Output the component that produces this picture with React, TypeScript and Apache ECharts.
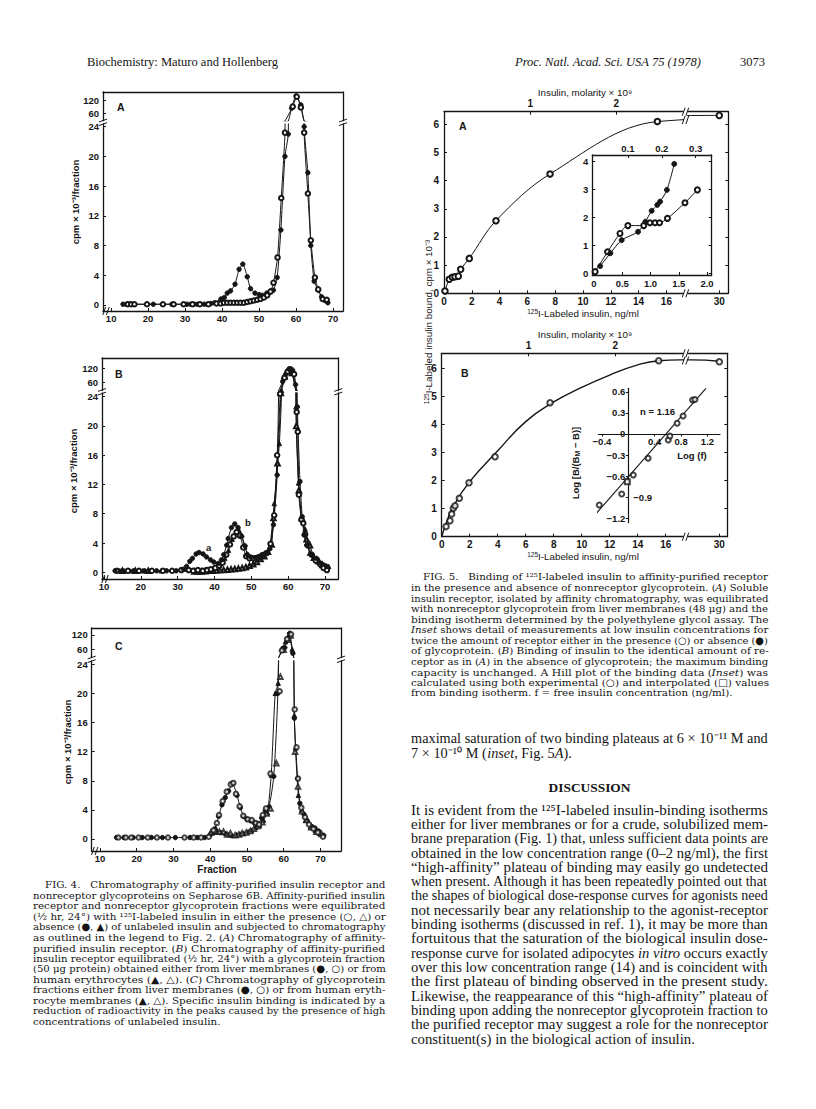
import React, { useEffect, useRef } from "react";
import * as echarts from "echarts";

const INK = "#151515";
const SANS = "'Liberation Sans', Arial, Helvetica, sans-serif";
const CAP_SERIF = "'DejaVu Serif', serif";
const BODY_SERIF = "'Liberation Serif', 'Times New Roman', serif";

// ---------------- Fig. 4 data: [fraction, cpm x 10^-3] ----------------
const fractionTicks = [10, 20, 30, 40, 50, 60, 70];
const lowerTicks = [0, 4, 8, 12, 16, 20, 24];
const upperTicks = [60, 120];

const fig4A_absence = [
  [13.2, 0.1], [14.1, 0.1], [15.0, 0.1], [21.4, 0.1], [26.4, 0.1], [30.5, 0.1], [31.5, 0.1], [32.4, 0.1], [33.3, 0.1],
  [34.2, 0.1], [35.2, 0.1], [36.1, 0.1], [37.0, 0.2], [38.0, 0.3], [39.7, 0.8], [40.6, 1.0], [41.4, 1.6], [42.3, 1.9],
  [43.5, 2.8], [44.6, 4.8], [45.6, 5.5], [46.8, 3.8], [47.7, 2.2], [48.9, 1.6], [50.0, 1.4], [50.9, 1.3], [52.1, 1.6],
  [53.2, 1.9], [53.9, 2.0], [54.9, 3.7], [55.9, 10.1], [57.0, 20.0], [57.9, 23.0], [58.8, 84], [60.0, 143], [61.3, 100],
  [62.2, 24.0], [63.2, 17.8], [64.0, 8.0], [64.9, 3.2], [66.0, 2.0], [66.9, 1.1], [67.8, 0.6], [68.6, 0.3],
];
const fig4A_presence = [
  [14.5, 0.1], [15.4, 0.1], [16.3, 0.1], [19.7, 0.1], [24.0, 0.1], [26.9, 0.1], [29.6, 0.1], [32.0, 0.1], [34.0, 0.1],
  [36.3, 0.1], [38.5, 0.2], [39.6, 0.2], [40.5, 0.3], [41.4, 0.3], [42.3, 0.3], [43.2, 0.3], [44.1, 0.3], [45.0, 0.3],
  [45.9, 0.3], [46.8, 0.4], [47.7, 0.5], [48.6, 0.6], [49.5, 0.7], [50.4, 0.8], [51.3, 1.0], [52.2, 1.3], [53.1, 1.8],
  [53.9, 3.0], [55.0, 6.4], [56.0, 14.4], [57.0, 23.2], [59.1, 92], [60.2, 139], [61.3, 88], [62.2, 23.2], [63.2, 15.0],
  [64.0, 8.7], [65.1, 3.7], [66.0, 2.1], [67.2, 0.8], [68.3, 0.7],
];

const fig4B_liverAbsence = [
  [13.0, 0.2], [14.9, 0.2], [18.0, 0.2], [21.0, 0.2], [24.3, 0.2], [27.0, 0.2], [29.6, 0.2], [31.6, 0.4], [32.4, 0.8],
  [33.3, 1.5], [34.0, 1.9], [35.0, 2.5], [35.8, 2.7], [36.9, 2.5], [37.8, 2.1], [38.9, 1.7], [39.8, 1.4], [41.0, 1.2],
  [41.9, 1.7], [42.5, 2.4], [43.3, 3.7], [43.7, 4.6], [44.6, 6.1], [45.5, 6.6], [46.4, 6.1], [47.4, 4.9], [48.3, 3.6],
  [48.9, 2.4], [49.8, 2.1], [51.0, 2.0], [51.9, 2.1], [53.0, 2.4], [54.2, 2.6], [55.0, 3.2], [56.0, 6.5], [57.0, 13.3],
  [58.5, 63], [59.3, 94], [60.2, 117], [61.2, 112], [62.0, 50], [62.5, 22.6], [63.2, 12.4], [63.8, 7.6], [64.3, 5.1],
  [65.0, 3.7], [66.4, 2.4], [67.7, 1.9], [69.0, 1.2], [70.4, 0.8],
];
const fig4B_liverPresence = [
  [13.5, 0.2], [16.5, 0.2], [19.5, 0.2], [23.0, 0.2], [26.0, 0.2], [28.5, 0.2], [31.0, 0.3], [33.0, 0.3], [34.2, 0.2],
  [35.5, 0.3], [36.8, 0.2], [38.0, 0.3], [39.0, 0.4], [40.2, 0.6], [41.2, 0.9], [42.2, 1.3], [43.2, 2.4], [44.2, 3.8],
  [45.2, 4.9], [46.0, 5.5], [46.9, 5.0], [47.8, 3.4], [48.6, 2.2], [49.5, 1.9], [50.6, 1.9], [51.8, 2.0], [52.9, 2.3],
  [54.0, 2.6], [55.2, 3.9], [56.2, 7.8], [57.0, 16.0], [57.8, 24.4], [59.0, 80], [59.8, 105], [60.6, 116], [61.6, 95],
  [62.3, 21.9], [62.6, 19.2], [62.9, 10.6], [63.6, 7.2], [64.1, 6.7], [64.6, 5.2], [66.4, 2.4], [67.5, 1.6], [68.7, 1.1],
  [69.6, 0.6], [70.5, 0.3],
];
const fig4B_eryAbsence = [
  [14.2, 0.2], [15.5, 0.2], [17.0, 0.2], [20.5, 0.2], [22.5, 0.2], [25.5, 0.2], [35.0, 0.3], [37.5, 0.4], [40.0, 0.6],
  [41.5, 1.0], [42.8, 1.9], [43.8, 3.0], [44.8, 4.5], [45.8, 5.5], [46.6, 5.8], [47.3, 5.1], [48.2, 3.5], [49.0, 2.5],
  [50.0, 2.0], [51.0, 1.9], [52.0, 2.0], [53.0, 2.2], [54.0, 2.6], [55.0, 3.4], [56.2, 9.4], [57.6, 17.6], [58.2, 24.7],
  [59.2, 88], [60.2, 112], [61.0, 108], [62.1, 22.6], [62.8, 12.2], [63.6, 7.5], [64.6, 5.9], [65.8, 2.6], [67.2, 1.9],
  [68.5, 1.4], [69.9, 1.0], [71.0, 0.8],
];
const fig4B_eryPresence = [
  [15.0, 0.2], [18.5, 0.2], [22.0, 0.2], [34.5, 0.1], [35.5, 0.1], [36.5, 0.1], [37.5, 0.15], [38.5, 0.2], [39.5, 0.2],
  [40.5, 0.25], [41.5, 0.3], [42.5, 0.3], [43.5, 0.35], [44.5, 0.4], [45.5, 0.45], [46.5, 0.5], [47.5, 0.6], [48.5, 0.7],
  [49.5, 0.9], [50.5, 1.1], [51.5, 1.4], [52.5, 1.8], [53.5, 2.2], [54.5, 2.8], [55.5, 3.8], [56.0, 7.4], [57.1, 14.9],
  [58.0, 24.5], [59.0, 85], [60.0, 110], [61.0, 100], [62.2, 20.0], [62.9, 11.2], [63.7, 7.4], [65.0, 4.5], [65.9, 3.7],
  [67.0, 2.0], [68.3, 1.5], [69.3, 1.0], [70.3, 0.7],
];

const fig4C_liverAbsence = [
  [14.5, 0.2], [16.5, 0.2], [19.0, 0.2], [21.5, 0.2], [24.0, 0.2], [27.0, 0.2], [30.5, 0.2], [34.5, 0.2], [36.5, 0.2],
  [38.5, 0.2], [40.2, 0.7], [41.3, 1.4], [42.3, 3.1], [43.2, 4.7], [44.1, 5.7], [45.0, 6.6], [46.1, 7.6], [47.3, 6.0],
  [48.2, 4.3], [49.1, 3.1], [50.0, 2.7], [51.0, 2.5], [52.0, 2.2], [53.0, 2.1], [54.0, 2.9], [55.0, 3.9], [56.0, 4.4],
  [57.3, 8.6], [58.4, 20.0], [59.8, 64], [60.3, 67], [61.6, 127], [62.5, 43], [62.9, 16.6], [63.8, 8.3], [64.4, 4.9],
  [65.5, 3.4], [66.4, 2.5], [67.7, 1.7], [68.5, 1.5], [69.5, 1.1], [70.9, 0.5],
];
const fig4C_liverPresence = [
  [15.0, 0.2], [17.0, 0.2], [18.5, 0.2], [20.5, 0.2], [23.0, 0.2], [25.5, 0.2], [28.5, 0.2], [33.0, 0.2], [35.5, 0.2],
  [37.5, 0.2], [39.6, 0.3], [40.9, 1.2], [41.8, 2.2], [42.4, 3.3], [43.4, 5.2], [44.5, 6.5], [45.6, 7.5], [46.3, 7.7],
  [47.0, 6.2], [48.0, 4.5], [49.0, 3.2], [50.2, 2.7], [51.3, 2.6], [52.4, 2.2], [53.3, 2.0], [54.3, 3.3], [55.2, 4.2],
  [56.4, 9.0], [58.9, 20.3], [59.5, 55], [60.9, 103], [62.0, 123], [63.0, 17.8], [63.5, 12.6], [63.9, 8.3], [64.8, 4.3],
  [65.8, 3.0], [66.9, 2.0], [68.1, 1.4], [69.3, 0.9], [70.7, 0.3],
];
const fig4C_eryAbsence = [
  [39.9, 0.7], [40.8, 0.9], [42.0, 1.0], [43.0, 0.9], [44.2, 0.8], [45.1, 0.6], [46.0, 0.5], [47.2, 0.6], [48.1, 0.7],
  [49.1, 0.8], [50.3, 1.0], [51.2, 1.2], [52.4, 1.6], [53.4, 1.9], [54.5, 2.6], [55.6, 3.6], [56.6, 8.8], [57.7, 20.0],
  [58.5, 21.4], [59.6, 60], [60.5, 92], [61.4, 120], [62.3, 60], [62.9, 17.0], [63.2, 12.5], [64.0, 6.0], [64.9, 4.0],
  [66.0, 2.6], [67.3, 1.7], [68.6, 1.2], [69.8, 0.8],
];
const fig4C_eryPresence = [
  [40.2, 0.9], [41.4, 1.1], [42.5, 1.0], [43.6, 1.0], [44.6, 0.6], [45.5, 0.8], [46.8, 0.5], [47.8, 0.6], [48.7, 0.8],
  [49.8, 0.9], [50.9, 1.1], [51.9, 1.4], [53.0, 1.8], [54.2, 2.3], [55.3, 3.5], [56.4, 4.2], [58.0, 10.4], [59.1, 22.3],
  [60.0, 58], [61.0, 100], [61.9, 118], [63.1, 12.0], [63.9, 7.2], [65.0, 3.8], [66.2, 2.6], [67.5, 1.6], [68.9, 1.0],
  [70.3, 0.7],
];

// ---------------- Fig. 5 data ----------------
const fig5XTicks = [0, 2, 4, 6, 8, 10, 12, 14, 16];
const fig5BreakTicks = [30];
const fig5YTicks = [0, 1, 2, 3, 4, 5, 6];
const molarityTicks = [1, 2];

const fig5A_ng = [0.07, 0.38, 0.6, 0.79, 1.03, 1.2, 1.82, 3.74, 7.63, 15.35, 30];
const fig5A_bound = [0.08, 0.5, 0.57, 0.59, 0.61, 0.85, 1.24, 2.58, 4.24, 6.1, 6.32];

const insetXTicks = [0, 0.5, 1, 1.5, 2];
const insetYTicks = [0, 1, 2, 3, 4];
const insetMolarTicks = [0.1, 0.2, 0.3];
const insetAbsence_ng = [0.11, 0.29, 0.49, 0.78, 0.91, 1.02, 1.12, 1.17, 1.29, 1.42];
const insetAbsence_bound = [0.26, 0.72, 1.19, 1.49, 1.85, 2.24, 2.45, 2.57, 2.99, 3.92];
const insetPresence_ng = [0.02, 0.24, 0.46, 0.6, 0.88, 0.99, 1.08, 1.16, 1.3, 1.61, 1.83];
const insetPresence_bound = [0.06, 0.77, 1.43, 1.71, 1.71, 1.81, 1.81, 1.81, 1.97, 2.53, 2.99];

const fig5B_ng = [0.31, 0.59, 0.71, 0.83, 0.95, 1.26, 1.95, 3.81, 7.74, 15.5, 30];
const fig5B_bound = [0.36, 0.57, 0.81, 1.01, 1.1, 1.37, 1.92, 2.85, 4.77, 6.27, 6.23];
const fig5B_curve_ng = [0, 0.3, 0.8, 2, 4, 6, 8, 10, 12, 14, 15.5, 17, 28, 30];
const fig5B_curve_bound = [0, 0.45, 1.05, 1.96, 3.06, 4.1, 4.8, 5.32, 5.76, 6.12, 6.27, 6.3, 6.3, 6.25];

const hillXTicks = [-0.4, 0.4, 0.8, 1.2];
const hillYTicksLeft = [0.6, 0.3, 0, -0.3, -0.6, -1.2];
const hillYTicksRight = [-0.9];
const hill_logf = [-0.44, -0.1, 0.076, 0.3, 0.606, 0.63, 0.74, 0.83, 0.975, 1.01];
const hill_logB = [-1.01, -0.853, -0.583, -0.346, -0.085, -0.028, 0.152, 0.256, 0.484, 0.49];
const hillInterp_logf = [-0.015];
const hillInterp_logB = [-0.68];
const hillFit_logf = [-0.505, 1.177];
const hillFit_logB = [-1.15, 0.65];

// ---------------- Page text ----------------
const headerLeft = "Biochemistry: Maturo and Hollenberg";
const headerRight = "Proc. Natl. Acad. Sci. USA 75 (1978)";
const pageNumber = "3073";

const fig4Caption = [
  "FIG. 4.   Chromatography of affinity-purified insulin receptor and",
  "nonreceptor glycoproteins on Sepharose 6B. Affinity-purified insulin",
  "receptor and nonreceptor glycoprotein fractions were equilibrated",
  "(½ hr, 24°) with ¹²⁵I-labeled insulin in either the presence (○, △) or",
  "absence (●, ▲) of unlabeled insulin and subjected to chromatography",
  "as outlined in the legend to Fig. 2. (_A_) Chromatography of affinity-",
  "purified insulin receptor. (_B_) Chromatography of affinity-purified",
  "insulin receptor equilibrated (½ hr, 24°) with a glycoprotein fraction",
  "(50 μg protein) obtained either from liver membranes (●, ○) or from",
  "human erythrocytes (▲, △). (_C_) Chromatography of glycoprotein",
  "fractions either from liver membranes (●, ○) or from human eryth-",
  "rocyte membranes (▲, △). Specific insulin binding is indicated by a",
  "reduction of radioactivity in the peaks caused by the presence of high",
  "concentrations of unlabeled insulin.",
];

const fig5Caption = [
  "FIG. 5.   Binding of ¹²⁵I-labeled insulin to affinity-purified receptor",
  "in the presence and absence of nonreceptor glycoprotein. (_A_) Soluble",
  "insulin receptor, isolated by affinity chromatography, was equilibrated",
  "with nonreceptor glycoprotein from liver membranes (48 μg) and the",
  "binding isotherm determined by the polyethylene glycol assay. The",
  "_Inset_ shows detail of measurements at low insulin concentrations for",
  "twice the amount of receptor either in the presence (○) or absence (●)",
  "of glycoprotein. (_B_) Binding of insulin to the identical amount of re-",
  "ceptor as in (_A_) in the absence of glycoprotein; the maximum binding",
  "capacity is unchanged. A Hill plot of the binding data (_Inset_) was",
  "calculated using both experimental (○) and interpolated (□) values",
  "from binding isotherm. f = free insulin concentration (ng/ml).",
];

const introLines = [
  "maximal saturation of two binding plateaus at 6 × 10⁻¹¹ M and",
  "7 × 10⁻¹⁰ M (_inset_, Fig. 5_A_).",
];
const discussionTitle = "DISCUSSION";
const discussionLines = [
  "It is evident from the ¹²⁵I-labeled insulin-binding isotherms",
  "either for liver membranes or for a crude, solubilized mem-",
  "brane preparation (Fig. 1) that, unless sufficient data points are",
  "obtained in the low concentration range (0–2 ng/ml), the first",
  "“high-affinity” plateau of binding may easily go undetected",
  "when present. Although it has been repeatedly pointed out that",
  "the shapes of biological dose-response curves for agonists need",
  "not necessarily bear any relationship to the agonist-receptor",
  "binding isotherms (discussed in ref. 1), it may be more than",
  "fortuitous that the saturation of the biological insulin dose-",
  "response curve for isolated adipocytes _in vitro_ occurs exactly",
  "over this low concentration range (14) and is coincident with",
  "the first plateau of binding observed in the present study.",
  "Likewise, the reappearance of this “high-affinity” plateau of",
  "binding upon adding the nonreceptor glycoprotein fraction to",
  "the purified receptor may suggest a role for the nonreceptor",
  "constituent(s) in the biological action of insulin.",
];

// ---------------- helpers ----------------
const zip = (xs: number[], ys: number[]) => xs.map((x, i) => [x, ys[i]]);
const fmt1 = (v: number) => (v === 0 ? "0" : (v < 0 ? "−" : "") + Math.abs(v).toFixed(1));

function buildOption() {
  const grid: any[] = [];
  const xAxis: any[] = [];
  const yAxis: any[] = [];
  const series: any[] = [];
  const graphic: any[] = [];

  const canvas = document.createElement("canvas");
  const mctx = canvas.getContext("2d")!;
  const measure = (s: string, font: string) => {
    mctx.font = font;
    return mctx.measureText(s).width;
  };

  const addGrid = (left: number, top: number, width: number, height: number) => {
    grid.push({ left, top, width, height, show: false, containLabel: false, outerBoundsMode: "none" });
    return grid.length - 1;
  };

  const axisCommon = (gi: number, min: number, max: number, o: any) => ({
    type: "value",
    gridIndex: gi,
    min,
    max,
    show: o.show !== false,
    offset: o.offset || 0,
    axisLine: { show: o.line !== false, onZero: false, lineStyle: { color: INK, width: o.lw || 1.3 } },
    splitLine: { show: false },
    splitArea: { show: false },
    axisTick: o.ticks
      ? { show: true, inside: o.tickInside !== false, length: o.tickLen || 3, customValues: o.ticks, lineStyle: { color: INK, width: 1 } }
      : { show: false },
    axisLabel: o.labels
      ? {
          show: true,
          inside: !!o.inside,
          customValues: o.labels,
          margin: o.margin ?? 4,
          formatter: o.fmt,
          color: INK,
          fontFamily: SANS,
          fontWeight: "bold",
          fontSize: o.fs || 9.5,
        }
      : { show: false },
  });
  const addX = (gi: number, min: number, max: number, o: any = {}) => {
    xAxis.push({ ...axisCommon(gi, min, max, o), position: o.position || "bottom" });
    return xAxis.length - 1;
  };
  const addY = (gi: number, min: number, max: number, o: any = {}) => {
    yAxis.push({ ...axisCommon(gi, min, max, o), position: o.position || "left" });
    return yAxis.length - 1;
  };

  const addSeries = (data: number[][], xi: number, yi: number, symbol: string, withLine: boolean, o: any = {}) => {
    const base: any = {
      data,
      xAxisIndex: xi,
      yAxisIndex: yi,
      symbol,
      symbolSize: o.size || 4.5,
      silent: true,
      itemStyle: { color: INK, borderColor: INK, borderWidth: o.bw || 0.9 },
      emphasis: { disabled: true },
      clip: o.clip !== false,
      animation: false,
    };
    if (withLine) {
      series.push({
        ...base,
        type: "line",
        showSymbol: symbol !== "none",
        showAllSymbol: true,
        smooth: o.smooth ?? 0.2,
        lineStyle: { color: INK, width: o.lw || 1 },
        z: 2,
      });
    } else {
      series.push({ ...base, type: "scatter", z: 3 });
    }
  };

  const txt = (text: string, x: number, y: number, o: any = {}) => ({
    type: "text",
    x,
    y,
    rotation: o.rot || 0,
    scaleX: o.sx || 1,
    silent: true,
    z: 100,
    style: {
      text,
      fill: INK,
      fontFamily: o.ff || SANS,
      fontSize: o.fs || 10,
      fontWeight: o.fw || "normal",
      fontStyle: o.fst || "normal",
      textAlign: o.align || "left",
      textVerticalAlign: o.va || "middle",
      align: o.align || "left",
      verticalAlign: o.va || "middle",
      rich: o.rich,
    },
  });

  const marks = (cx: number, cy: number, acrossVertical: boolean) => {
    for (const d of [-1.8, 1.8]) {
      const shape = acrossVertical
        ? { x1: cx - 4, y1: cy + d + 1.4, x2: cx + 4, y2: cy + d - 1.4 }
        : { x1: cx + d - 1.4, y1: cy + 4, x2: cx + d + 1.4, y2: cy - 4 };
      graphic.push({ type: "line", silent: true, z: 101, shape, style: { stroke: INK, lineWidth: 1 } });
    }
  };

  // ---------- Fig 4 panels ----------
  const fig4Panel = (p: any) => {
    const w = p.right - p.left;
    const gUp = addGrid(p.left, p.top, w, p.upBottom - p.top);
    const gLo = addGrid(p.left, p.lowTop, w, p.bottom - p.lowTop);
    const xLo = addX(gLo, p.xmin, p.xmax, { labels: fractionTicks, ticks: fractionTicks, margin: 2 });
    const xUp = addX(gUp, p.xmin, p.xmax, { position: "top" });
    const yLo = addY(gLo, p.lowMin, p.lowMax, { labels: lowerTicks, ticks: lowerTicks });
    addY(gLo, p.lowMin, p.lowMax, { position: "right" });
    const yUp = addY(gUp, 25, p.upMax, { labels: upperTicks, ticks: upperTicks });
    addY(gUp, 25, p.upMax, { position: "right" });
    p.sets.forEach((s: any) => {
      addSeries(s.data, xLo, yLo, s.symbol, s.line);
      addSeries(s.data, xUp, yUp, s.symbol, s.line);
    });
    const mid = (p.upBottom + p.lowTop) / 2;
    marks(p.left, mid, true);
    marks(p.right, mid, true);
    marks(p.left + 3, p.bottom, false);
    graphic.push(txt("cpm × 10⁻³/fraction", p.nameX, p.nameY, { rot: Math.PI / 2, align: "center", fs: 9.5, fw: "bold" }));
    graphic.push(txt(p.letter, p.letterX, p.letterY, { fs: 10.5, fw: "bold" }));
  };

  fig4Panel({
    left: 103, right: 343, top: 92, upBottom: 120.65, lowTop: 124, bottom: 311,
    xmin: 7.8, xmax: 72.7, lowMin: -0.81, lowMax: 24.36, upMax: 161.4,
    nameX: 75, nameY: 202, letter: "A", letterX: 117, letterY: 107,
    sets: [
      { data: fig4A_absence, symbol: "circle", line: true },
      { data: fig4A_presence, symbol: "emptyCircle", line: true },
    ],
  });
  fig4Panel({
    left: 102, right: 338.3, top: 358, upBottom: 390.5, lowTop: 393, bottom: 579,
    xmin: 9.46, xmax: 73.6, lowMin: -0.92, lowMax: 24.5, upMax: 164.1,
    nameX: 73, nameY: 471, letter: "B", letterX: 115, letterY: 374,
    sets: [
      { data: fig4B_eryPresence, symbol: "emptyTriangle", line: true },
      { data: fig4B_eryAbsence, symbol: "triangle", line: true },
      { data: fig4B_liverPresence, symbol: "emptyCircle", line: true },
      { data: fig4B_liverAbsence, symbol: "circle", line: true },
    ],
  });
  fig4Panel({
    left: 91.7, right: 341, top: 628, upBottom: 657.6, lowTop: 661, bottom: 851,
    xmin: 7.74, xmax: 75.6, lowMin: -1.65, lowMax: 24.45, upMax: 149.4,
    nameX: 67, nameY: 742, letter: "C", letterX: 115, letterY: 646,
    sets: [
      { data: fig4C_eryAbsence, symbol: "triangle", line: true },
      { data: fig4C_liverAbsence, symbol: "circle", line: true },
      { data: fig4C_eryPresence, symbol: "emptyTriangle", line: false },
      { data: fig4C_liverPresence, symbol: "emptyCircle", line: false },
    ],
  });
  graphic.push(txt("a", 206, 547, { fs: 9.5, fw: "bold" }));
  graphic.push(txt("b", 245, 522, { fs: 9.5, fw: "bold" }));
  graphic.push(txt("Fraction", 217, 869.5, { fs: 10, fw: "bold", align: "center" }));

  // ---------- Fig 5 main panels ----------
  const supRich = { s: { fontSize: 6.5, fontFamily: SANS, fill: INK, verticalAlign: "top", padding: [0, 0, 4, 0] } };
  const fig5Panel = (c: any) => {
    const gm = addGrid(c.left, c.top, c.mainW, c.height);
    const gr = addGrid(c.rightLeft, c.top, c.rightW, c.height);
    const xm = addX(gm, 0, c.xmax, { labels: fig5XTicks, ticks: fig5XTicks, fs: 10, margin: 3 });
    addX(gm, 0, c.xmax / c.ratio, { position: "top", labels: molarityTicks, ticks: molarityTicks, fs: 10, margin: 3 });
    const ym = addY(gm, 0, c.ymax, { labels: fig5YTicks, ticks: fig5YTicks, fs: 10, margin: 5 });
    const xr = addX(gr, c.rmin, c.rmax, { labels: fig5BreakTicks, ticks: fig5BreakTicks, fs: 10, margin: 3 });
    addX(gr, c.rmin, c.rmax, { position: "top" });
    const yr = addY(gr, 0, c.ymax, { show: false, line: false });
    addY(gr, 0, c.ymax, { position: "right", ticks: fig5YTicks });
    const bx = (c.left + c.mainW + c.rightLeft) / 2;
    marks(bx, c.top, false);
    marks(bx, c.top + c.height, false);
    graphic.push(txt("Insulin, molarity × 10⁹", 585, c.top - 19, { fs: 9.8, align: "center" }));
    graphic.push(txt("{s|125}I-Labeled insulin, ng/ml", 583, c.top + c.height + 20, { fs: 9.8, align: "center", rich: supRich }));
    graphic.push(txt(c.letter, c.letterX, c.letterY, { fs: 10.5, fw: "bold" }));
    return { xm, ym, xr, yr };
  };

  const pA = fig5Panel({
    left: 444, top: 111.7, height: 181.6, mainW: 239, xmax: 17.194, rightLeft: 688, rightW: 40.3,
    rmin: 27.75, rmax: 30.65, ymax: 6.451, ratio: 6.2, letter: "A", letterX: 459, letterY: 126,
  });
  const fig5AData = zip(fig5A_ng, fig5A_bound);
  addSeries(fig5AData, pA.xm, pA.ym, "emptyCircle", true, { size: 5.5, smooth: 0.35 });
  addSeries(fig5AData, pA.xr, pA.yr, "emptyCircle", true, { size: 5.5, smooth: 0.35 });
  marks(685.5, 120, false);

  const pB = fig5Panel({
    left: 441.7, top: 353.3, height: 183.4, mainW: 241.3, xmax: 17.236, rightLeft: 688, rightW: 39.3,
    rmin: 27.76, rmax: 30.57, ymax: 6.534, ratio: 6.2, letter: "B", letterX: 461, letterY: 373,
  });
  const fig5BCurve = zip(fig5B_curve_ng, fig5B_curve_bound);
  const fig5BData = zip(fig5B_ng, fig5B_bound);
  addSeries(fig5BCurve, pB.xm, pB.ym, "none", true, { smooth: 0.5, lw: 1.4 });
  addSeries(fig5BCurve, pB.xr, pB.yr, "none", true, { smooth: 0.5, lw: 1.4 });
  addSeries(fig5BData, pB.xm, pB.ym, "emptyCircle", false, { size: 5.5 });
  addSeries(fig5BData, pB.xr, pB.yr, "emptyCircle", false, { size: 5.5 });
  marks(685.5, 360.5, false);

  graphic.push(
    txt("{s|125}I-Labeled insulin bound, cpm × 10⁻³", 428, 322, { rot: Math.PI / 2, align: "center", fs: 9.8, rich: supRich }),
  );

  // ---------- Fig 5A inset ----------
  const gi = addGrid(592.3, 155, 119.4, 120);
  const xi = addX(gi, -0.03, 2.083, { labels: insetXTicks, ticks: insetXTicks, fmt: fmt1, margin: 3 });
  addX(gi, -0.03 / 6, 2.083 / 6, { position: "top", labels: insetMolarTicks, ticks: insetMolarTicks, fmt: fmt1, margin: 2 });
  const yi = addY(gi, -0.06, 4.24, { labels: insetYTicks, ticks: insetYTicks, margin: 4 });
  addY(gi, -0.06, 4.24, { position: "right", ticks: insetYTicks });
  addSeries(zip(insetPresence_ng, insetPresence_bound), xi, yi, "emptyCircle", true, { size: 5, smooth: 0.3 });
  addSeries(zip(insetAbsence_ng, insetAbsence_bound), xi, yi, "circle", true, { size: 5, smooth: 0.3 });

  // ---------- Fig 5B Hill plot inset (axes crossing at the origin) ----------
  const hL = 598.3, hT = 388.3, hW = 121.7, hH = 134.4;
  const hxMin = -0.455, hxMax = 1.39, hyMin = -1.262, hyMax = 0.65;
  const zeroX = hL + ((0 - hxMin) / (hxMax - hxMin)) * hW;
  const zeroY = hT + ((hyMax - 0) / (hyMax - hyMin)) * hH;
  const gh = addGrid(hL, hT, hW, hH);
  const xh = addX(gh, hxMin, hxMax, {
    labels: hillXTicks, ticks: hillXTicks, fmt: fmt1, margin: 3, tickInside: false, tickLen: 2.5, lw: 1.2,
    offset: -(hT + hH - zeroY),
  });
  const yh = addY(gh, hyMin, hyMax, {
    labels: hillYTicksLeft, ticks: [0.6, 0.3, -0.3, -0.6, -0.9, -1.2], fmt: fmt1, margin: 3, tickInside: false, tickLen: 2.5, lw: 1.2,
    offset: -(zeroX - hL),
  });
  addY(gh, hyMin, hyMax, { line: false, labels: hillYTicksRight, inside: true, fmt: fmt1, margin: 5, offset: -(zeroX - hL) });
  addSeries(zip(hillFit_logf, hillFit_logB), xh, yh, "none", true, { clip: false, smooth: false, lw: 1.1 });
  addSeries(zip(hill_logf, hill_logB), xh, yh, "emptyCircle", false, { size: 5 });
  addSeries(zip(hillInterp_logf, hillInterp_logB), xh, yh, "emptyRect", false, { size: 5 });
  graphic.push(txt("n = 1.16", 640, 411.5, { fs: 9.5, fw: "bold" }));
  graphic.push(txt("Log (f)", 692, 455, { fs: 9.5, fw: "bold", align: "center" }));
  graphic.push(
    txt("Log [B/(B{s|M} − B)]", 575, 463, {
      rot: Math.PI / 2,
      align: "center",
      fs: 9.5,
      fw: "bold",
      rich: { s: { fontSize: 7, fontFamily: SANS, fontWeight: "bold", fill: INK, verticalAlign: "bottom", padding: [4, 0, 0, 0] } },
    }),
  );

  // ---------- Page text ----------
  graphic.push(txt(headerLeft, 87, 62, { ff: BODY_SERIF, fs: 12.5 }));
  graphic.push(txt(headerRight, 515, 62, { ff: BODY_SERIF, fs: 12.5, fst: "italic" }));
  graphic.push(txt(pageNumber, 740, 62, { ff: BODY_SERIF, fs: 12.5 }));

  // justified text blocks: every line but the last is stretched to the column width;
  // the last line keeps the block's mean horizontal scale so the face looks the same.
  const block = (lines: string[], x0: number, y0: number, lh: number, width: number, ff: string, fs: number, indentFirst: number) => {
    const info = lines.map((raw, i) => {
      const indent = i === 0 ? indentFirst : 0;
      const parts = raw.split("_");
      let w = 0;
      parts.forEach((p, k) => {
        w += measure(p, `${k % 2 ? "italic " : ""}${fs}px ${ff}`);
      });
      return { parts, indent, w, target: width - indent };
    });
    const full = info.slice(0, -1).map((d) => d.target / d.w);
    const mean = full.length ? full.reduce((a, b) => a + b, 0) / full.length : 1;
    info.forEach((d, i) => {
      const isLast = i === info.length - 1;
      let sx = isLast ? Math.min(mean, d.target / d.w) : d.target / d.w;
      sx = Math.max(0.8, Math.min(1.3, sx));
      const text = d.parts.map((p, k) => (k % 2 ? (p ? `{i|${p}}` : "") : p)).join("");
      graphic.push(
        txt(text, x0 + d.indent, y0 + i * lh, {
          ff,
          fs,
          sx,
          rich: { i: { fontStyle: "italic", fontFamily: ff, fontSize: fs, fill: INK } },
        }),
      );
    });
  };

  block(fig4Caption, 33, 885, 10.5, 352, CAP_SERIF, 9.9, 12);
  block(fig5Caption, 411, 577, 10.55, 357, CAP_SERIF, 9.9, 12);
  block(introLines, 411, 739, 14.5, 357, BODY_SERIF, 13.6, 0);
  graphic.push(txt(discussionTitle, 589.5, 787, { ff: BODY_SERIF, fs: 13.4, fw: "bold", align: "center" }));
  block(discussionLines, 411, 810, 14.3, 357, BODY_SERIF, 13.6, 0);

  return {
    animation: false,
    backgroundColor: "#ffffff",
    textStyle: { fontFamily: SANS },
    grid,
    xAxis,
    yAxis,
    series,
    graphic: { elements: graphic },
  };
}

export default function App() {
  const ref = useRef<HTMLDivElement>(null);
  useEffect(() => {
    if (!ref.current) return;
    const chart = echarts.init(ref.current, null, { renderer: "svg" });
    chart.setOption(buildOption() as any);
    return () => chart.dispose();
  }, []);
  return (
    <div
      ref={ref}
      style={{ position: "absolute", left: 0, top: 0, width: 816, height: 1109, background: "#fff" }}
    />
  );
}
